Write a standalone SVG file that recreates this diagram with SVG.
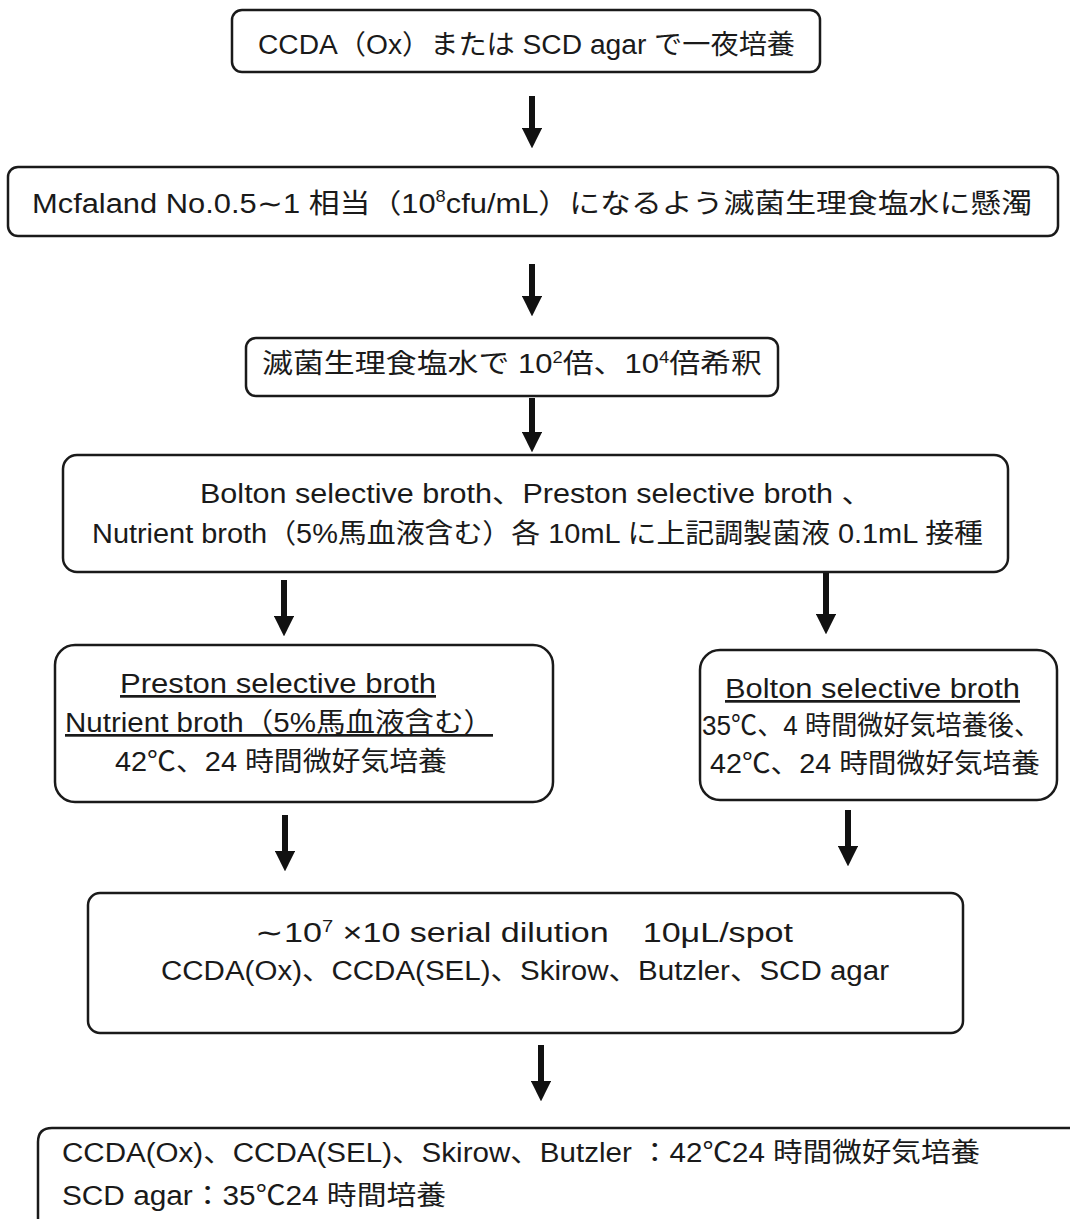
<svg xmlns="http://www.w3.org/2000/svg" width="1070" height="1219" viewBox="0 0 1070 1219">
<style>
.box{fill:#fff;stroke:#1a1a1a;stroke-width:2.5}
.t{font-family:"Liberation Sans","Noto Sans CJK JP",sans-serif;fill:#1a1a1a;font-size:27px}
.c{text-anchor:middle}
.u{text-decoration:underline}
.conn line{stroke:#111;stroke-width:6;marker-end:url(#ah)}
</style>
<defs>
<marker id="ah" viewBox="0 0 10 10" refX="1" refY="5" markerWidth="3.4" markerHeight="3.4" orient="auto" markerUnits="strokeWidth">
<path d="M0,0 L10,5 L0,10 z" fill="#111"/>
</marker>
</defs>
<rect width="1070" height="1219" fill="#fff"/>
<g id="connectors" class="conn">
<line x1="532" y1="96" x2="532" y2="130"/>
<line x1="532" y1="264" x2="532" y2="298"/>
<line x1="532" y1="398" x2="532" y2="434"/>
<line x1="284" y1="580" x2="284" y2="618"/>
<line x1="826" y1="573" x2="826" y2="616"/>
<line x1="285" y1="815" x2="285" y2="853"/>
<line x1="848" y1="810" x2="848" y2="848"/>
<line x1="541" y1="1045" x2="541" y2="1083"/>
</g>
<g id="n1">
<rect class="box" x="232" y="10" width="588" height="62" rx="10"/>
<text class="t" x="258" y="54" font-size="29" textLength="537" lengthAdjust="spacingAndGlyphs">CCDA（Ox）または SCD agar で一夜培養</text>
</g>
<g id="n2">
<rect class="box" x="8" y="167" width="1050" height="69" rx="10"/>
<text class="t" x="32" y="213" font-size="28" textLength="1000" lengthAdjust="spacingAndGlyphs">Mcfaland No.0.5∼1 相当（10<tspan font-size="16" dy="-11">8</tspan><tspan dy="11">cfu/mL）になるよう滅菌生理食塩水に懸濁</tspan></text>
</g>
<g id="n3">
<rect class="box" x="246" y="338" width="532" height="58" rx="10"/>
<text class="t" x="262" y="373" textLength="500" lengthAdjust="spacingAndGlyphs">滅菌生理食塩水で 10<tspan font-size="16" dy="-10">2</tspan><tspan dy="10">倍、10</tspan><tspan font-size="16" dy="-10">4</tspan><tspan dy="10">倍希釈</tspan></text>
</g>
<g id="n4">
<rect class="box" x="63" y="455" width="945" height="117" rx="14"/>
<text class="t" x="200" y="503" textLength="672" lengthAdjust="spacingAndGlyphs">Bolton selective broth、Preston selective broth 、</text>
<text class="t" x="92" y="543" textLength="891" lengthAdjust="spacingAndGlyphs">Nutrient broth（5%馬血液含む）各 10mL に上記調製菌液 0.1mL 接種</text>
</g>
<g id="n5">
<rect class="box" x="55" y="645" width="498" height="157" rx="20"/>
<text class="t u" x="120" y="693" textLength="316" lengthAdjust="spacingAndGlyphs">Preston selective broth</text>
<text class="t u" x="65" y="732" textLength="428" lengthAdjust="spacingAndGlyphs">Nutrient broth（5%馬血液含む）</text>
<text class="t" x="115" y="771" textLength="332" lengthAdjust="spacingAndGlyphs">42℃、24 時間微好気培養</text>
</g>
<g id="n6">
<rect class="box" x="700" y="650" width="357" height="150" rx="20"/>
<text class="t u" x="725" y="698" textLength="295" lengthAdjust="spacingAndGlyphs">Bolton selective broth</text>
<text class="t" x="702" y="735" textLength="338" lengthAdjust="spacingAndGlyphs">35℃、4 時間微好気培養後、</text>
<text class="t" x="710" y="773" textLength="330" lengthAdjust="spacingAndGlyphs">42℃、24 時間微好気培養</text>
</g>
<g id="n7">
<rect class="box" x="88" y="893" width="875" height="140" rx="12"/>
<text class="t" x="255" y="942" textLength="538" lengthAdjust="spacingAndGlyphs">∼10<tspan font-size="16" dy="-10">7</tspan><tspan dy="10"> ×10 serial dilution　10μL/spot</tspan></text>
<text class="t" x="161" y="980" textLength="728" lengthAdjust="spacingAndGlyphs">CCDA(Ox)、CCDA(SEL)、Skirow、Butzler、SCD agar</text>
</g>
<g id="n8">
<path class="box" d="M1075,1128 H52 Q38,1128 38,1142 V1225"/>
<text class="t" x="62" y="1162" textLength="918" lengthAdjust="spacingAndGlyphs">CCDA(Ox)、CCDA(SEL)、Skirow、Butzler ：42℃24 時間微好気培養</text>
<text class="t" x="62" y="1205" textLength="384" lengthAdjust="spacingAndGlyphs">SCD agar：35℃24 時間培養</text>
</g>
</svg>
